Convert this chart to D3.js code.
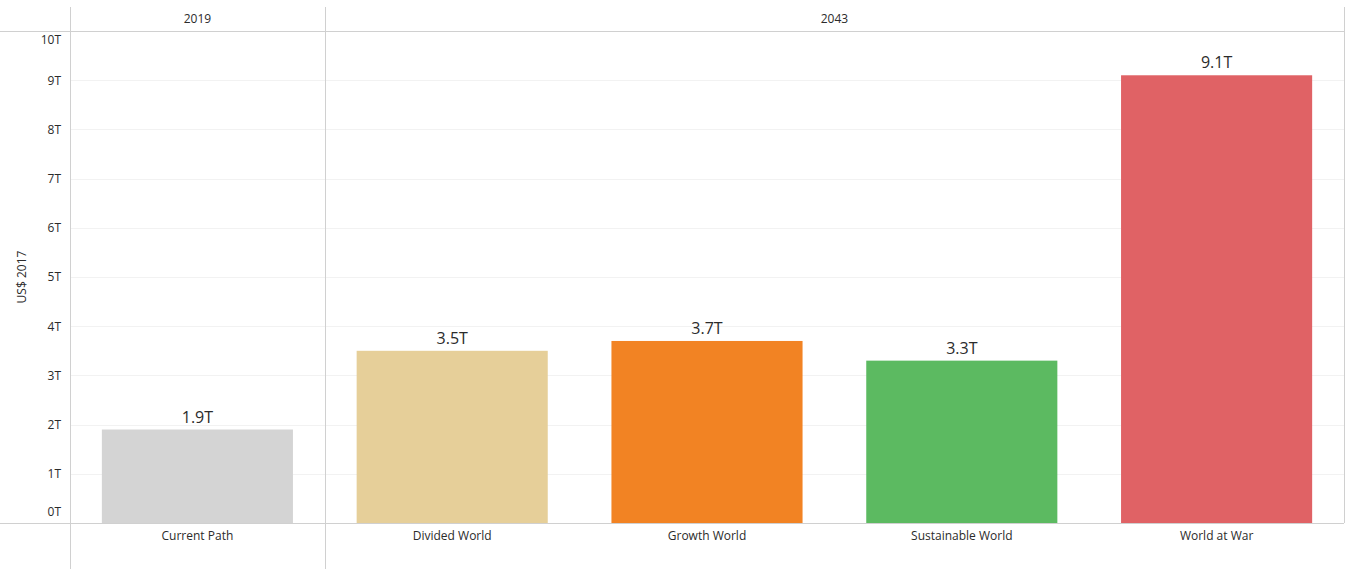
<!DOCTYPE html>
<meta charset="utf-8">
<style>
body { margin: 0; background: #fff; }
.tick text { font: 12px "Open Sans", "Noto Sans", sans-serif; fill: #2b2b2b; }
.valLabel { font: 16px "Open Sans", "Noto Sans", sans-serif; fill: #2b2b2b; text-anchor: middle; }
.hdr { font: 12px "Open Sans", "Noto Sans", sans-serif; fill: #2b2b2b; text-anchor: middle; }
</style>
<body>
<script src="https://d3js.org/d3.v7.min.js"></script>
<script>
// data
var years = ["2019", "2043"];
var scenarios = ["Current Path", "Divided World", "Growth World", "Sustainable World", "World at War"];
var scenarioYear = ["2019", "2043", "2043", "2043", "2043"];
var values = [1.9, 3.5, 3.7, 3.3, 9.1];
var labels = ["1.9T", "3.5T", "3.7T", "3.3T", "9.1T"];
var colors = ["#d4d4d4", "#e6cf99", "#f28323", "#5cba61", "#e06265"];
var yTicks = [0, 1, 2, 3, 4, 5, 6, 7, 8, 9, 10];

var W = 1346, H = 569;
var plotLeft = 70, plotRight = 1344, plotTop = 31, base = 523, hdrTop = 7;

var svg = d3.select("body").append("svg")
    .attr("width", W)
    .attr("height", H);

var x = d3.scaleBand().domain(scenarios).range([plotLeft, plotRight]).paddingInner(0.25).paddingOuter(0.125);
var y = d3.scaleLinear().domain([0, 10]).range([base, plotTop]);

// gridlines
svg.append("g").selectAll("line")
    .data(yTicks.filter(function(d) { return d > 0 && d < 10; }))
    .enter().append("line")
    .attr("x1", plotLeft).attr("x2", plotRight)
    .attr("y1", function(d) { return Math.round(y(d)) + 0.5; })
    .attr("y2", function(d) { return Math.round(y(d)) + 0.5; })
    .attr("stroke", "#f2f2f2");

// bars
svg.append("g").selectAll("rect")
    .data(scenarios)
    .enter().append("rect")
    .attr("x", function(d) { return x(d); })
    .attr("width", x.bandwidth())
    .attr("y", function(d, i) { return y(values[i]); })
    .attr("height", function(d, i) { return base - y(values[i]); })
    .attr("fill", function(d, i) { return colors[i]; });

// value labels
svg.append("g").selectAll("text")
    .data(scenarios)
    .enter().append("text")
    .attr("class", "valLabel")
    .attr("x", function(d) { return x(d) + x.bandwidth() / 2; })
    .attr("y", function(d, i) { return y(values[i]) - 7; })
    .text(function(d, i) { return labels[i]; });

// y axis
var yAxis = svg.append("g")
    .attr("transform", "translate(" + plotLeft + ",0)")
    .call(d3.axisLeft(y).tickValues(yTicks).tickSize(0).tickPadding(9)
        .tickFormat(function(d) { return d + "T"; }));
yAxis.select(".domain").remove();
yAxis.selectAll(".tick text")
    .attr("dy", function(d) { return d === 0 ? "-0.6em" : (d === 10 ? "1.05em" : "0.32em"); });

svg.append("text")
    .attr("transform", "translate(26," + ((plotTop + base) / 2) + ") rotate(-90)")
    .attr("text-anchor", "middle")
    .style("font", "12px 'Open Sans', 'Noto Sans', sans-serif")
    .style("fill", "#2b2b2b")
    .text("US$ 2017");

// x axis labels
var xAxis = svg.append("g")
    .attr("transform", "translate(0," + base + ")")
    .call(d3.axisBottom(x).tickSize(0).tickPadding(8));
xAxis.select(".domain").remove();

// header / frame lines
var lineCol = "#d0d0d0";
[plotTop, base].forEach(function(yy) {
  svg.append("line")
      .attr("x1", 0).attr("x2", plotRight)
      .attr("y1", yy + 0.5).attr("y2", yy + 0.5)
      .attr("stroke", lineCol);
});

// pane dividers per year
var step = x.step();
var paneEdges = years.map(function(yr) {
  var s = scenarios.filter(function(d, i) { return scenarioYear[i] === yr; });
  return { yr: yr,
           x0: x(s[0]) - step * x.paddingInner() / 2,
           x1: x(s[s.length - 1]) + x.bandwidth() + step * x.paddingInner() / 2 };
});
paneEdges[0].x0 = plotLeft;
paneEdges[paneEdges.length - 1].x1 = plotRight;

paneEdges.forEach(function(p) {
  svg.append("line")
      .attr("x1", Math.round(p.x0) + 0.5).attr("x2", Math.round(p.x0) + 0.5)
      .attr("y1", hdrTop).attr("y2", H)
      .attr("stroke", lineCol);
  svg.append("text")
      .attr("class", "hdr")
      .attr("x", (p.x0 + p.x1) / 2)
      .attr("y", 23)
      .text(p.yr);
});
svg.append("line")
    .attr("x1", plotRight + 0.5).attr("x2", plotRight + 0.5)
    .attr("y1", hdrTop).attr("y2", base)
    .attr("stroke", lineCol);
</script>
</body>
